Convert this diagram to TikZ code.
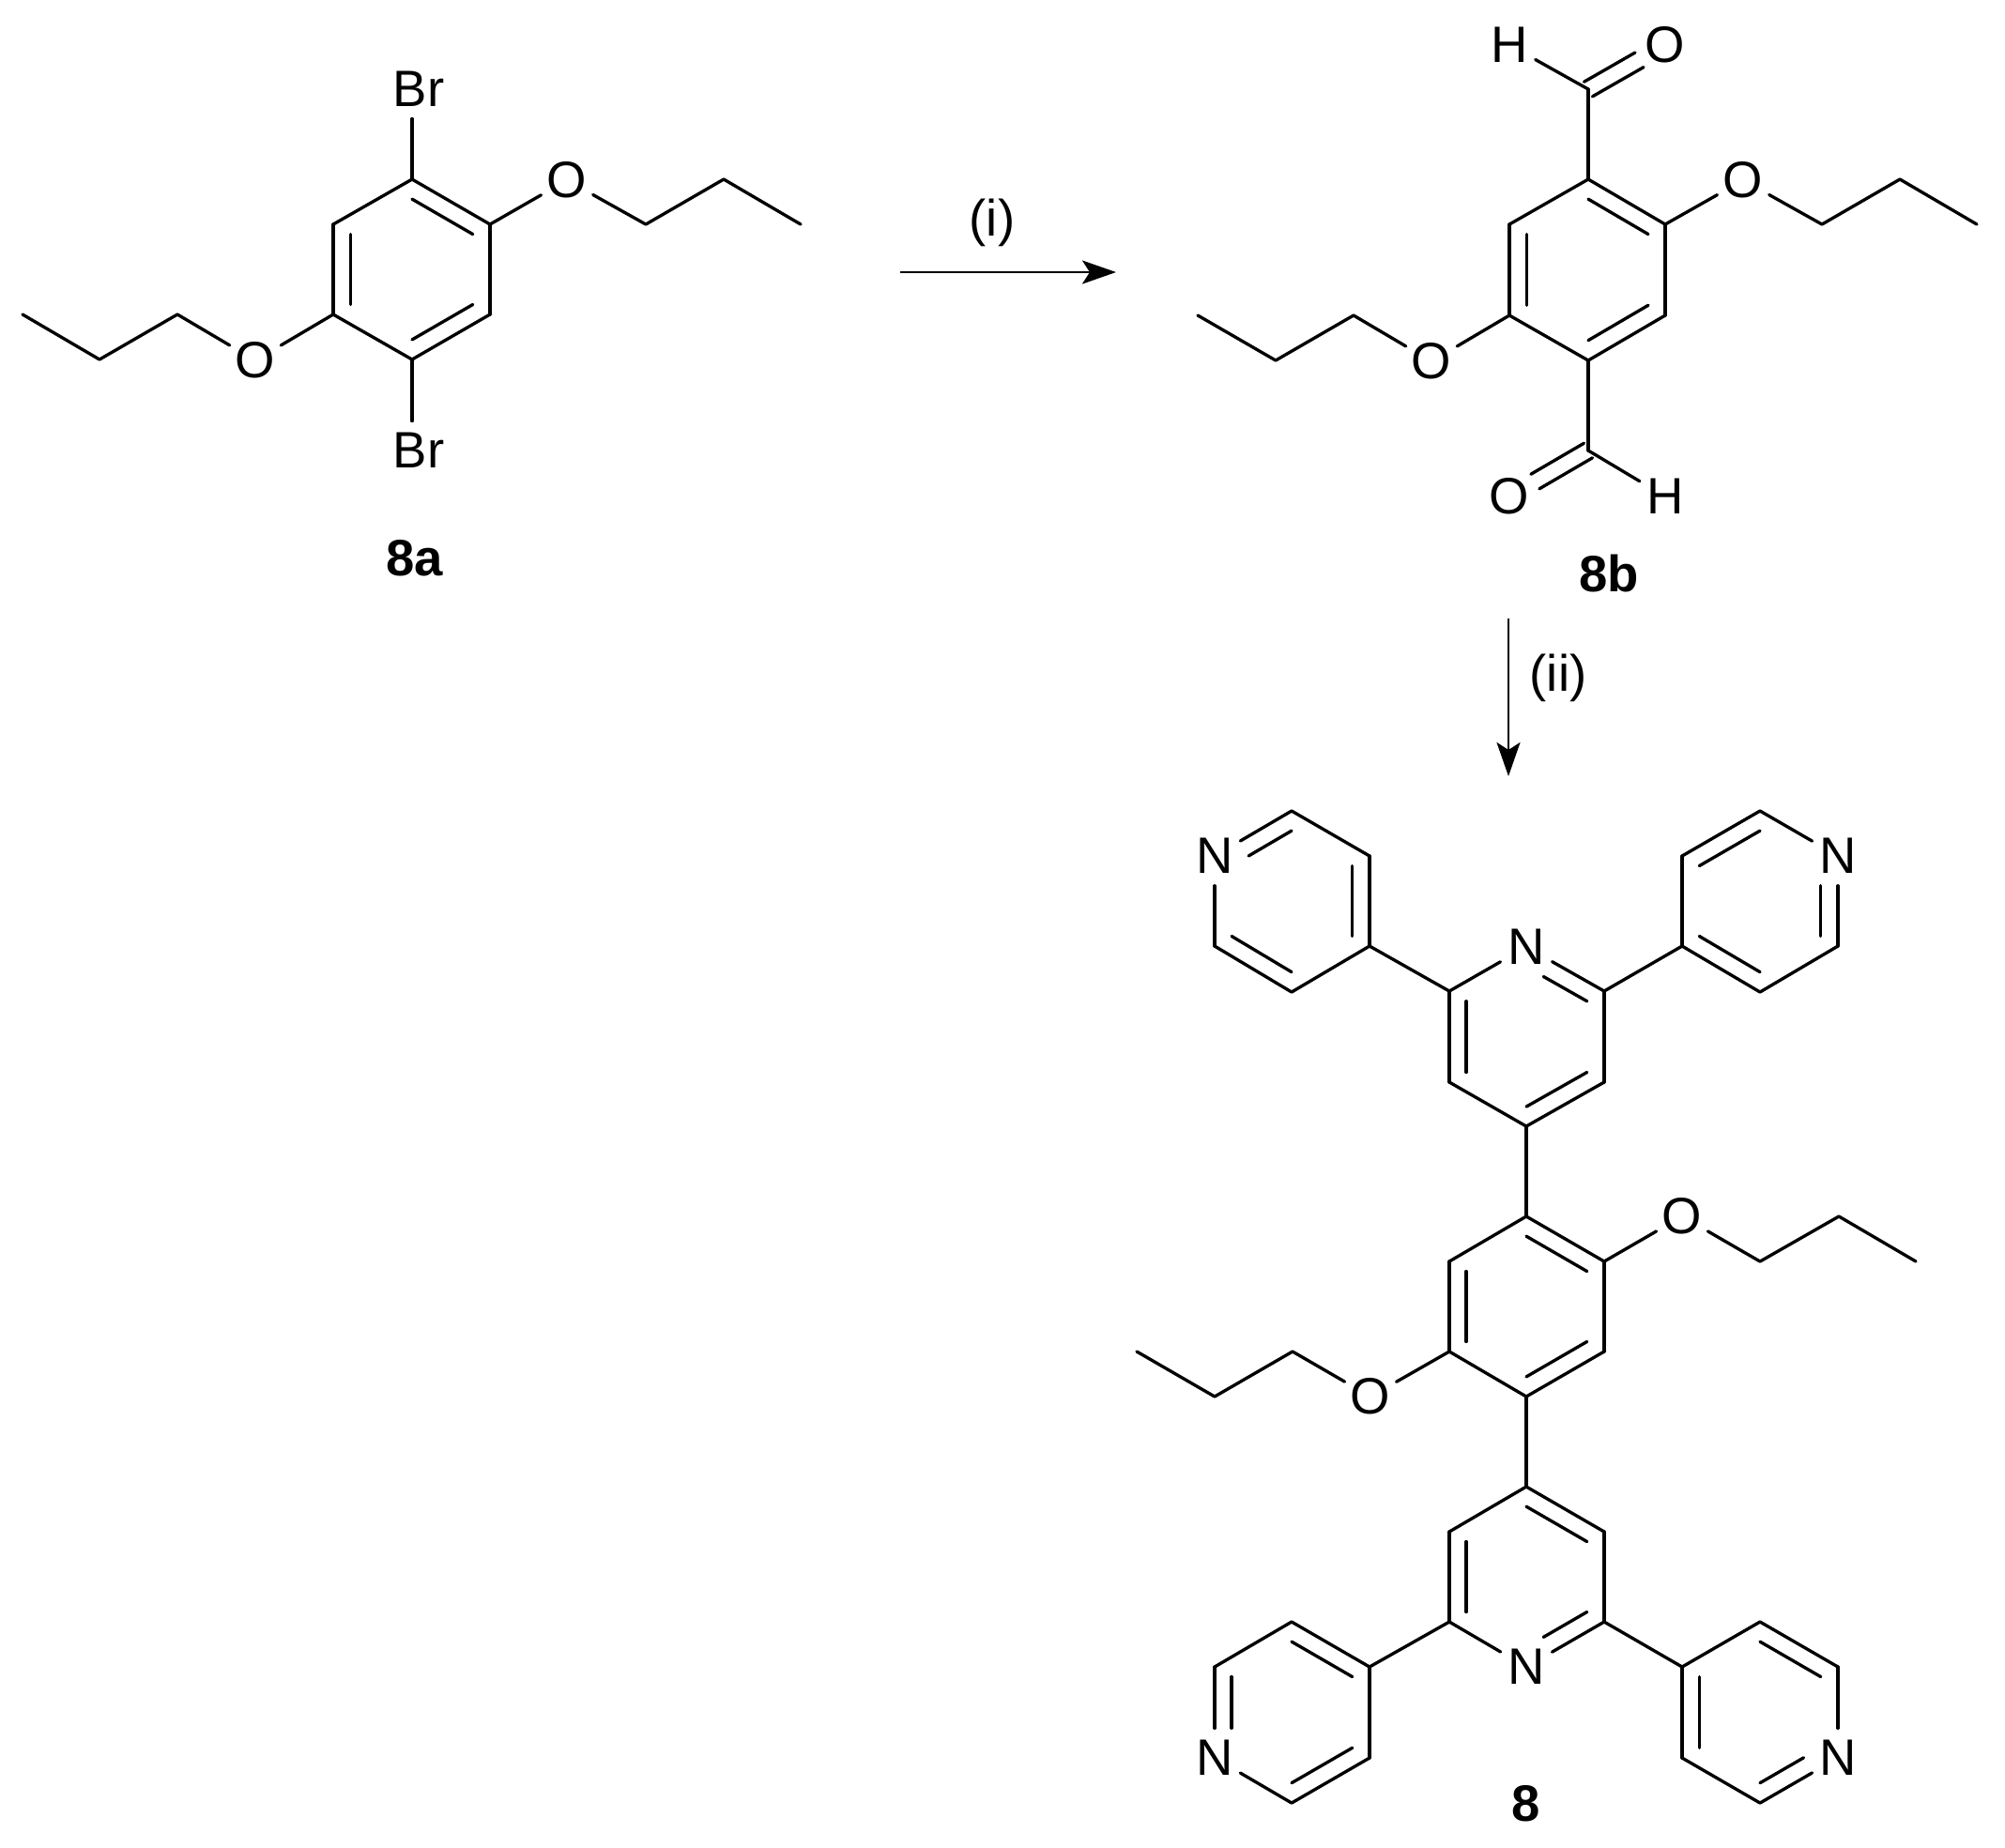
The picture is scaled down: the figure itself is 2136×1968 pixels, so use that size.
\documentclass[tikz,border=0pt]{standalone}
\usepackage{fontspec}
\setmainfont{Liberation Sans}
\usetikzlibrary{calc,arrows.meta}

\tikzset{
  chemtext/.style={font=\fontsize{15.5}{18}\selectfont},
  atom/.style={circle,chemtext,inner sep=0pt,minimum size=6.2mm},
  halogen/.style={chemtext,inner sep=1.2mm},
  compound/.style={chemtext,font=\fontsize{15.5}{18}\selectfont\bfseries},
  bondline/.style={line width=0.95pt,line cap=round},
  dblup/.style={transform canvas={shift={(4.5,7.8)}}},
  dbldown/.style={transform canvas={shift={(-4.5,-7.8)}}},
  reaction/.style={line width=0.65pt,-{Stealth[length=3.6mm,width=2.5mm,inset=0.8mm]}}
}

% inner line of an aromatic double bond: end, end, ring centre
\newcommand{\inbond}[3]{\draw[bondline] ($(#1)!0.22!(#3)$) -- ($(#2)!0.22!(#3)$);}
% same, first end is a labelled atom
\newcommand{\inbondN}[3]{\draw[bondline,shorten <=2.1mm] ($(#1)!0.22!(#3)$) -- ($(#2)!0.22!(#3)$);}

\begin{document}
\begin{tikzpicture}[x=0.01cm,y=-0.01cm]
  \useasboundingbox (0,0) rectangle (2136,1968);

  % 8a
  \coordinate (a1)  at (439,191);
  \coordinate (a2)  at (522,239);
  \coordinate (a3)  at (522,335);
  \coordinate (a4)  at (439,383);
  \coordinate (a5)  at (355,335);
  \coordinate (a6)  at (355,239);
  \coordinate (ac)  at (439,287);
  \coordinate (a7)  at (688,239);
  \coordinate (a8)  at (771,191);
  \coordinate (a9)  at (853,239);
  \coordinate (a10) at (189,335);
  \coordinate (a11) at (106,383);
  \coordinate (a12) at (24,335);

  % 8b
  \coordinate (b1)  at (1692,191);
  \coordinate (b2)  at (1774,239);
  \coordinate (b3)  at (1774,336);
  \coordinate (b4)  at (1692,384);
  \coordinate (b5)  at (1608,336);
  \coordinate (b6)  at (1608,239);
  \coordinate (bc)  at (1692,287);
  \coordinate (b7)  at (1941,239);
  \coordinate (b8)  at (2024,191);
  \coordinate (b9)  at (2106,239);
  \coordinate (b10) at (1442,336);
  \coordinate (b11) at (1359,384);
  \coordinate (b12) at (1276,336);
  \coordinate (bCt) at (1692,95);
  \coordinate (bCb) at (1692,480);

  % 8, upper pyridines
  \coordinate (p1)  at (1544,1056);
  \coordinate (p2)  at (1709,1056);
  \coordinate (p3)  at (1709,1153);
  \coordinate (p4)  at (1626,1200);
  \coordinate (p5)  at (1544,1153);
  \coordinate (pc)  at (1626,1105);
  \coordinate (q1)  at (1376,864);
  \coordinate (q2)  at (1459,912);
  \coordinate (q3)  at (1459,1008);
  \coordinate (q4)  at (1376,1057);
  \coordinate (q5)  at (1294,1008);
  \coordinate (qc)  at (1376,960);
  \coordinate (r1)  at (1875,864);
  \coordinate (r2)  at (1792,912);
  \coordinate (r3)  at (1792,1008);
  \coordinate (r4)  at (1875,1057);
  \coordinate (r5)  at (1958,1008);
  \coordinate (rc)  at (1875,960);

  % 8, middle ring
  \coordinate (c1)  at (1626,1296);
  \coordinate (c2)  at (1709,1344);
  \coordinate (c3)  at (1709,1440);
  \coordinate (c4)  at (1626,1488);
  \coordinate (c5)  at (1544,1440);
  \coordinate (c6)  at (1544,1344);
  \coordinate (cc)  at (1626,1392);
  \coordinate (c7)  at (1875,1344);
  \coordinate (c8)  at (1959,1296);
  \coordinate (c9)  at (2041,1344);
  \coordinate (c10) at (1377,1440);
  \coordinate (c11) at (1294,1488);
  \coordinate (c12) at (1211,1440);

  % 8, lower pyridines
  \coordinate (s1)  at (1626,1584);
  \coordinate (s2)  at (1709,1632);
  \coordinate (s3)  at (1709,1728);
  \coordinate (s4)  at (1544,1728);
  \coordinate (s5)  at (1544,1632);
  \coordinate (sc)  at (1626,1680);
  \coordinate (t1)  at (1376,1728);
  \coordinate (t2)  at (1459,1776);
  \coordinate (t3)  at (1459,1873);
  \coordinate (t4)  at (1376,1921);
  \coordinate (t5)  at (1294,1776);
  \coordinate (tc)  at (1376,1824);
  \coordinate (u1)  at (1875,1728);
  \coordinate (u2)  at (1958,1776);
  \coordinate (u3)  at (1875,1921);
  \coordinate (u4)  at (1792,1873);
  \coordinate (u5)  at (1792,1776);
  \coordinate (uc)  at (1875,1824);

  % arrow ends
  \coordinate (arrAs) at (959,290);
  \coordinate (arrAe) at (1189,290);
  \coordinate (arrBs) at (1607,659);
  \coordinate (arrBe) at (1607,827);

  \begin{scope}[every node/.style={atom}]
    \node (aOr) at (604,192)   {O};
    \node (aOl) at (272,384)   {O};
    \node (bOr) at (1857,192)  {O};
    \node (bOl) at (1525,385)  {O};
    \node (bOt) at (1774,48)   {O};
    \node (bOb) at (1608,529)  {O};
    \node (bHt) at (1608,48)   {H};
    \node (bHb) at (1774,529)  {H};
    \node (pN)  at (1626,1009) {N};
    \node (qN)  at (1294,912)  {N};
    \node (rN)  at (1958,912)  {N};
    \node (cOr) at (1792,1296) {O};
    \node (cOl) at (1460,1488) {O};
    \node (sN)  at (1626,1776) {N};
    \node (tN)  at (1294,1873) {N};
    \node (uN)  at (1958,1873) {N};
  \end{scope}

  \node[halogen] (aBrt) at (446,95)  {Br};
  \node[halogen] (aBrb) at (446,480) {Br};

  \node[compound] (lab8a) at (442,595)   {8a};
  \node[compound] (lab8b) at (1714,611)  {8b};
  \node[compound] (lab8)  at (1626,1922) {8};
  \node[chemtext] (stepA) at (1057,237)  {(i)};
  \node[chemtext] (stepB) at (1660,722)  {(ii)};

  \draw[reaction] (arrAs) -- (arrAe);
  \draw[reaction] (arrBs) -- (arrBe);

  \begin{scope}[bondline,every edge/.style={draw}]
    % 8a
    \path (a1) edge (a2);
    \path (a2) edge (a3);
    \path (a3) edge (a4);
    \path (a4) edge (a5);
    \path (a5) edge (a6);
    \path (a6) edge (a1);
    \path (a1) edge (a1 |- aBrt.south);
    \path (a4) edge (a4 |- aBrb.north);
    \path (a2) edge (aOr);
    \path (aOr) edge (a7);
    \path (a7) edge (a8);
    \path (a8) edge (a9);
    \path (a5) edge (aOl);
    \path (aOl) edge (a10);
    \path (a10) edge (a11);
    \path (a11) edge (a12);

    % 8b
    \path (b1) edge (b2);
    \path (b2) edge (b3);
    \path (b3) edge (b4);
    \path (b4) edge (b5);
    \path (b5) edge (b6);
    \path (b6) edge (b1);
    \path (b2) edge (bOr);
    \path (bOr) edge (b7);
    \path (b7) edge (b8);
    \path (b8) edge (b9);
    \path (b5) edge (bOl);
    \path (bOl) edge (b10);
    \path (b10) edge (b11);
    \path (b11) edge (b12);
    \path (b1) edge (bCt);
    \path (b4) edge (bCb);
    \path (bCt) edge (bHt);
    \path (bCb) edge (bHb);
    \path (bCt) edge[dblup] (bOt);
    \path (bCt) edge[dbldown] (bOt);
    \path (bCb) edge[dblup] (bOb);
    \path (bCb) edge[dbldown] (bOb);

    % 8, upper pyridines
    \path (pN) edge (p1);
    \path (pN) edge (p2);
    \path (p2) edge (p3);
    \path (p3) edge (p4);
    \path (p4) edge (p5);
    \path (p5) edge (p1);
    \path (p1) edge (q3);
    \path (p2) edge (r3);
    \path (qN) edge (q1);
    \path (q1) edge (q2);
    \path (q2) edge (q3);
    \path (q3) edge (q4);
    \path (q4) edge (q5);
    \path (q5) edge (qN);
    \path (rN) edge (r1);
    \path (r1) edge (r2);
    \path (r2) edge (r3);
    \path (r3) edge (r4);
    \path (r4) edge (r5);
    \path (r5) edge (rN);

    % 8, middle ring
    \path (p4) edge (c1);
    \path (c1) edge (c2);
    \path (c2) edge (c3);
    \path (c3) edge (c4);
    \path (c4) edge (c5);
    \path (c5) edge (c6);
    \path (c6) edge (c1);
    \path (c2) edge (cOr);
    \path (cOr) edge (c7);
    \path (c7) edge (c8);
    \path (c8) edge (c9);
    \path (c5) edge (cOl);
    \path (cOl) edge (c10);
    \path (c10) edge (c11);
    \path (c11) edge (c12);
    \path (c4) edge (s1);

    % 8, lower pyridines
    \path (s1) edge (s2);
    \path (s2) edge (s3);
    \path (s3) edge (sN);
    \path (sN) edge (s4);
    \path (s4) edge (s5);
    \path (s5) edge (s1);
    \path (s4) edge (t2);
    \path (s3) edge (u5);
    \path (t1) edge (t2);
    \path (t2) edge (t3);
    \path (t3) edge (t4);
    \path (t4) edge (tN);
    \path (tN) edge (t5);
    \path (t5) edge (t1);
    \path (u1) edge (u2);
    \path (u2) edge (uN);
    \path (uN) edge (u3);
    \path (u3) edge (u4);
    \path (u4) edge (u5);
    \path (u5) edge (u1);
  \end{scope}

  % inner lines
  \inbond{a1}{a2}{ac}
  \inbond{a3}{a4}{ac}
  \inbond{a5}{a6}{ac}
  \inbond{b1}{b2}{bc}
  \inbond{b3}{b4}{bc}
  \inbond{b5}{b6}{bc}
  \inbond{c1}{c2}{cc}
  \inbond{c3}{c4}{cc}
  \inbond{c5}{c6}{cc}
  \inbondN{pN}{p2}{pc}
  \inbond{p3}{p4}{pc}
  \inbond{p5}{p1}{pc}
  \inbondN{qN}{q1}{qc}
  \inbond{q2}{q3}{qc}
  \inbond{q4}{q5}{qc}
  \inbondN{rN}{r5}{rc}
  \inbond{r1}{r2}{rc}
  \inbond{r3}{r4}{rc}
  \inbondN{sN}{s3}{sc}
  \inbond{s1}{s2}{sc}
  \inbond{s4}{s5}{sc}
  \inbondN{tN}{t5}{tc}
  \inbond{t1}{t2}{tc}
  \inbond{t3}{t4}{tc}
  \inbondN{uN}{u3}{uc}
  \inbond{u1}{u2}{uc}
  \inbond{u4}{u5}{uc}
\end{tikzpicture}
\end{document}
